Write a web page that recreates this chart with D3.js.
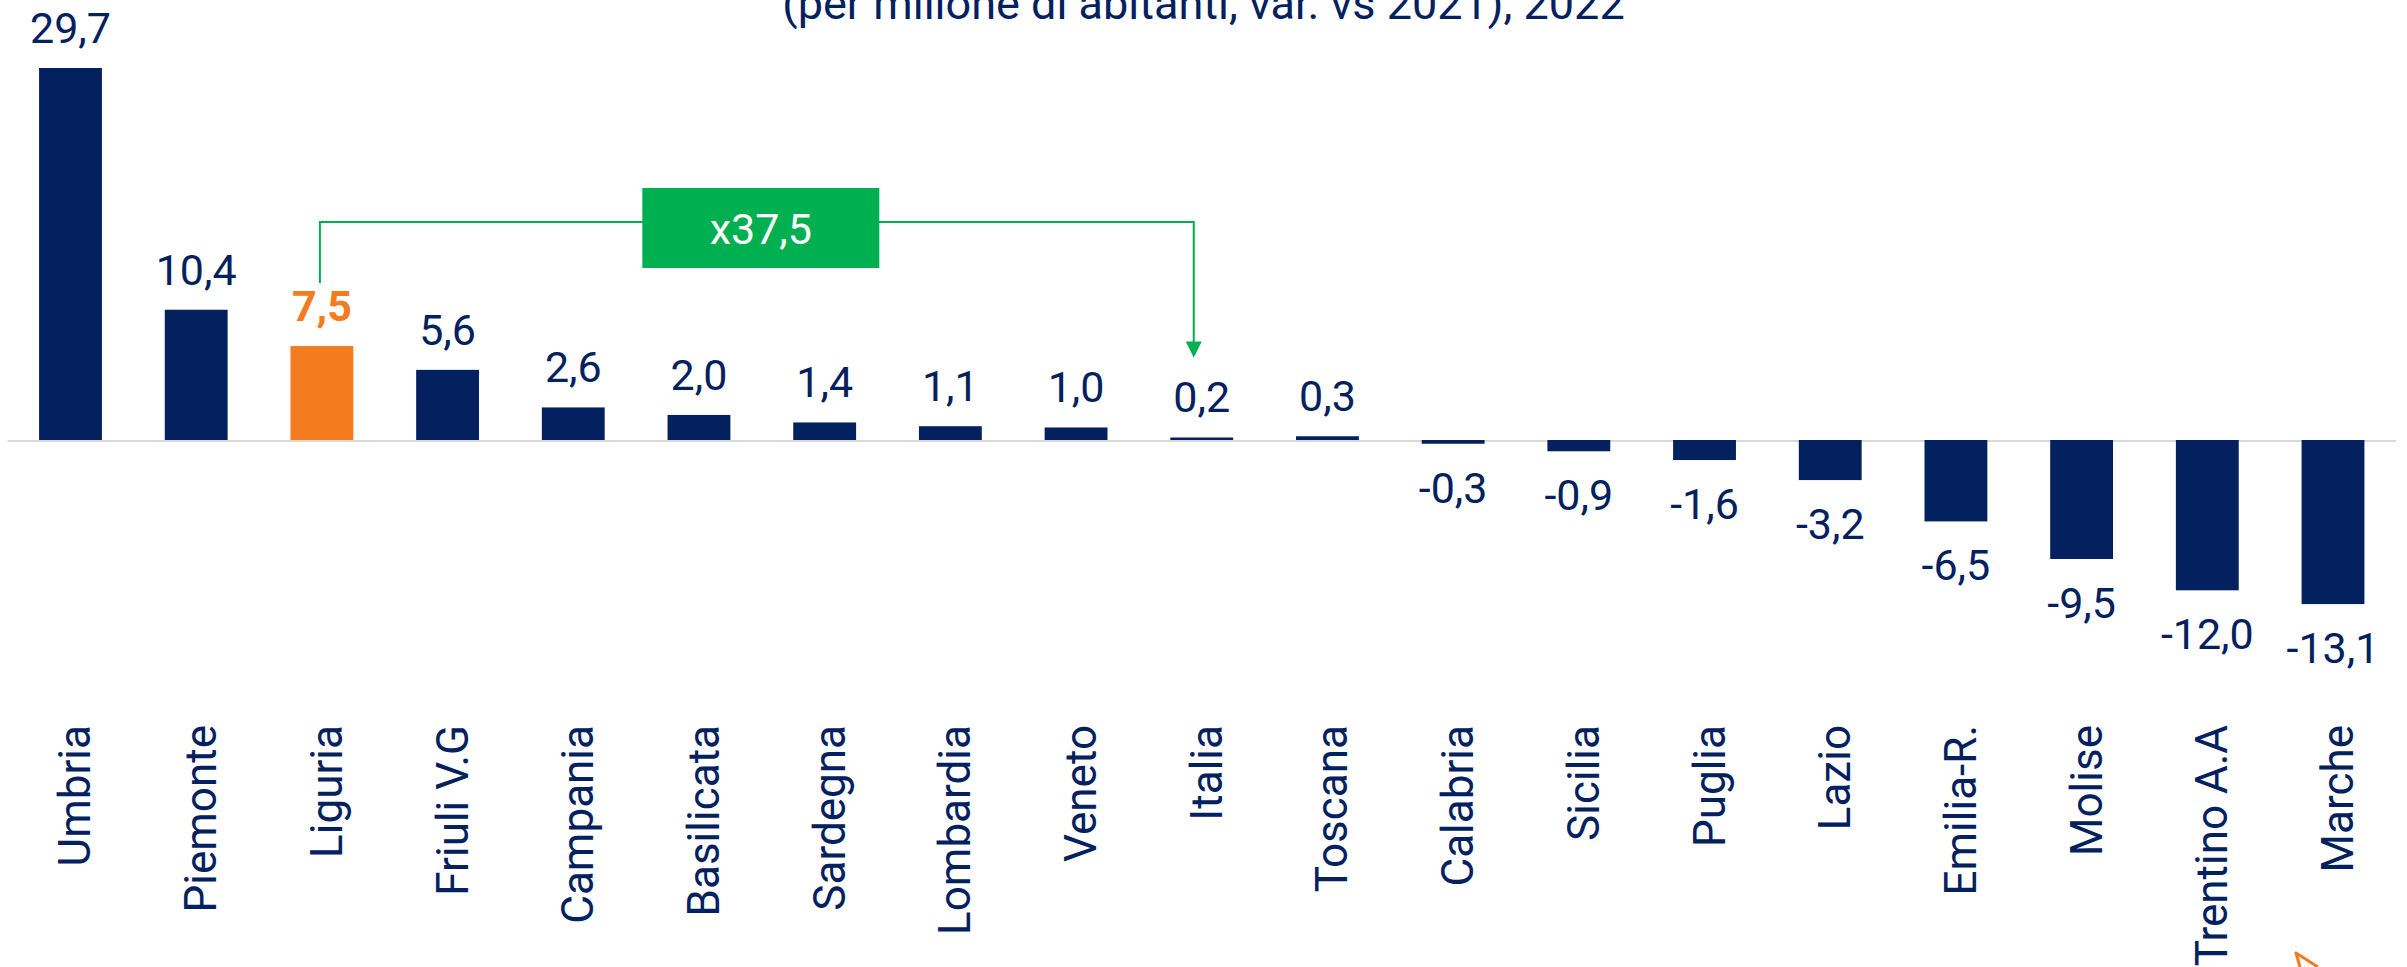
<!DOCTYPE html>
<html>
<head>
<meta charset="utf-8">
<script src="https://cdn.jsdelivr.net/npm/d3@7"></script>
<style>
  html, body { margin: 0; padding: 0; background: #ffffff; }
  svg { display: block; }
  text { font-family: Roboto, "Noto Sans", sans-serif; }
</style>
</head>
<body>
<svg id="chart" width="2407" height="967"></svg>
<script>
// ---- data ----
const regions = ["Umbria","Piemonte","Liguria","Friuli V.G","Campania","Basilicata","Sardegna","Lombardia","Veneto","Italia","Toscana","Calabria","Sicilia","Puglia","Lazio","Emilia-R.","Molise","Trentino A.A","Marche"];
const values = [29.7, 10.4, 7.5, 5.6, 2.6, 2.0, 1.4, 1.1, 1.0, 0.2, 0.3, -0.3, -0.9, -1.6, -3.2, -6.5, -9.5, -12.0, -13.1];
const highlight = "Liguria";
const compareFrom = "Liguria";
const compareTo = "Italia";
const ratioLabel = "x37,5";
const subtitle = "(per milione di abitanti, var. vs 2021), 2022";

// ---- styles ----
const NAVY = "#03215f";
const ORANGE = "#f47b20";
const GREEN = "#00b050";
const GRID = "#d9d9d9";

const W = 2407, H = 967;
const svg = d3.select("#chart");

const x = d3.scaleBand()
  .domain(regions)
  .range([7.65, 2395.85])
  .paddingInner(0.5)
  .paddingOuter(0.25);

const y = d3.scaleLinear()
  .domain([0, 29.7])
  .range([440, 68]);

const fmt = v => d3.format(".1f")(v).replace(".", ",").replace("−", "-");

// subtitle (cut at top, as in the source image)
svg.append("text")
  .attr("x", W / 2)
  .attr("y", 19)
  .attr("text-anchor", "middle")
  .attr("font-size", 45)
  .attr("fill", NAVY)
  .text(subtitle);

// zero line
svg.append("line")
  .attr("x1", x.range()[0]).attr("x2", x.range()[1])
  .attr("y1", y(0) + 1).attr("y2", y(0) + 1)
  .attr("stroke", GRID).attr("stroke-width", 2);

const data = regions.map((r, i) => ({ r, v: values[i] }));

// bars
svg.append("g").selectAll("rect")
  .data(data).join("rect")
  .attr("x", d => x(d.r))
  .attr("width", x.bandwidth())
  .attr("y", d => Math.min(y(d.v), y(0)))
  .attr("height", d => Math.abs(y(d.v) - y(0)))
  .attr("fill", d => d.r === highlight ? ORANGE : NAVY);

// value labels
svg.append("g").selectAll("text")
  .data(data).join("text")
  .attr("x", d => x(d.r) + x.bandwidth() / 2)
  .attr("y", d => d.v >= 0 ? y(d.v) - 25 : y(d.v) + 59)
  .attr("text-anchor", "middle")
  .attr("font-size", 43)
  .attr("font-weight", d => d.r === highlight ? 700 : 400)
  .attr("fill", d => d.r === highlight ? ORANGE : NAVY)
  .text(d => fmt(d.v));

// category labels (rotated)
svg.append("g").selectAll("text")
  .data(data).join("text")
  .attr("transform", d => `translate(${x(d.r) + x.bandwidth() / 2 + 20},725) rotate(-90)`)
  .attr("text-anchor", "end")
  .attr("font-size", 44)
  .attr("fill", NAVY)
  .text(d => d.r);

// comparison annotation
const ax1 = x(compareFrom) + x.bandwidth() / 2 - 2;
const ax2 = x(compareTo) + x.bandwidth() / 2 - 8;
const ay = y(29.7) + 154;              // horizontal connector level
const leftBottom = y(values[regions.indexOf(compareFrom)]) - 63;
const arrowTip = y(values[regions.indexOf(compareTo)]) - 80;

const ann = svg.append("g");
ann.append("path")
  .attr("d", `M${ax1},${leftBottom} V${ay} H${ax2} V${arrowTip - 14}`)
  .attr("fill", "none")
  .attr("stroke", GREEN)
  .attr("stroke-width", 2);
ann.append("path")
  .attr("d", `M${ax2 - 8},${arrowTip - 16} L${ax2 + 8},${arrowTip - 16} L${ax2},${arrowTip} Z`)
  .attr("fill", GREEN);

const bx = (ax1 + ax2) / 2 + 4;
ann.append("rect")
  .attr("x", bx - 118.5).attr("y", ay - 34)
  .attr("width", 237).attr("height", 80)
  .attr("fill", GREEN);
ann.append("text")
  .attr("x", bx).attr("y", ay + 22)
  .attr("text-anchor", "middle")
  .attr("font-size", 43)
  .attr("fill", "#ffffff")
  .text(ratioLabel);

// partial orange arrow mark at bottom-right edge
svg.append("path")
  .attr("d", "M2300,967 L2296,953 L2318,967")
  .attr("fill", "none")
  .attr("stroke", ORANGE)
  .attr("stroke-width", 3)
  .attr("stroke-linejoin", "round");
</script>
</body>
</html>
